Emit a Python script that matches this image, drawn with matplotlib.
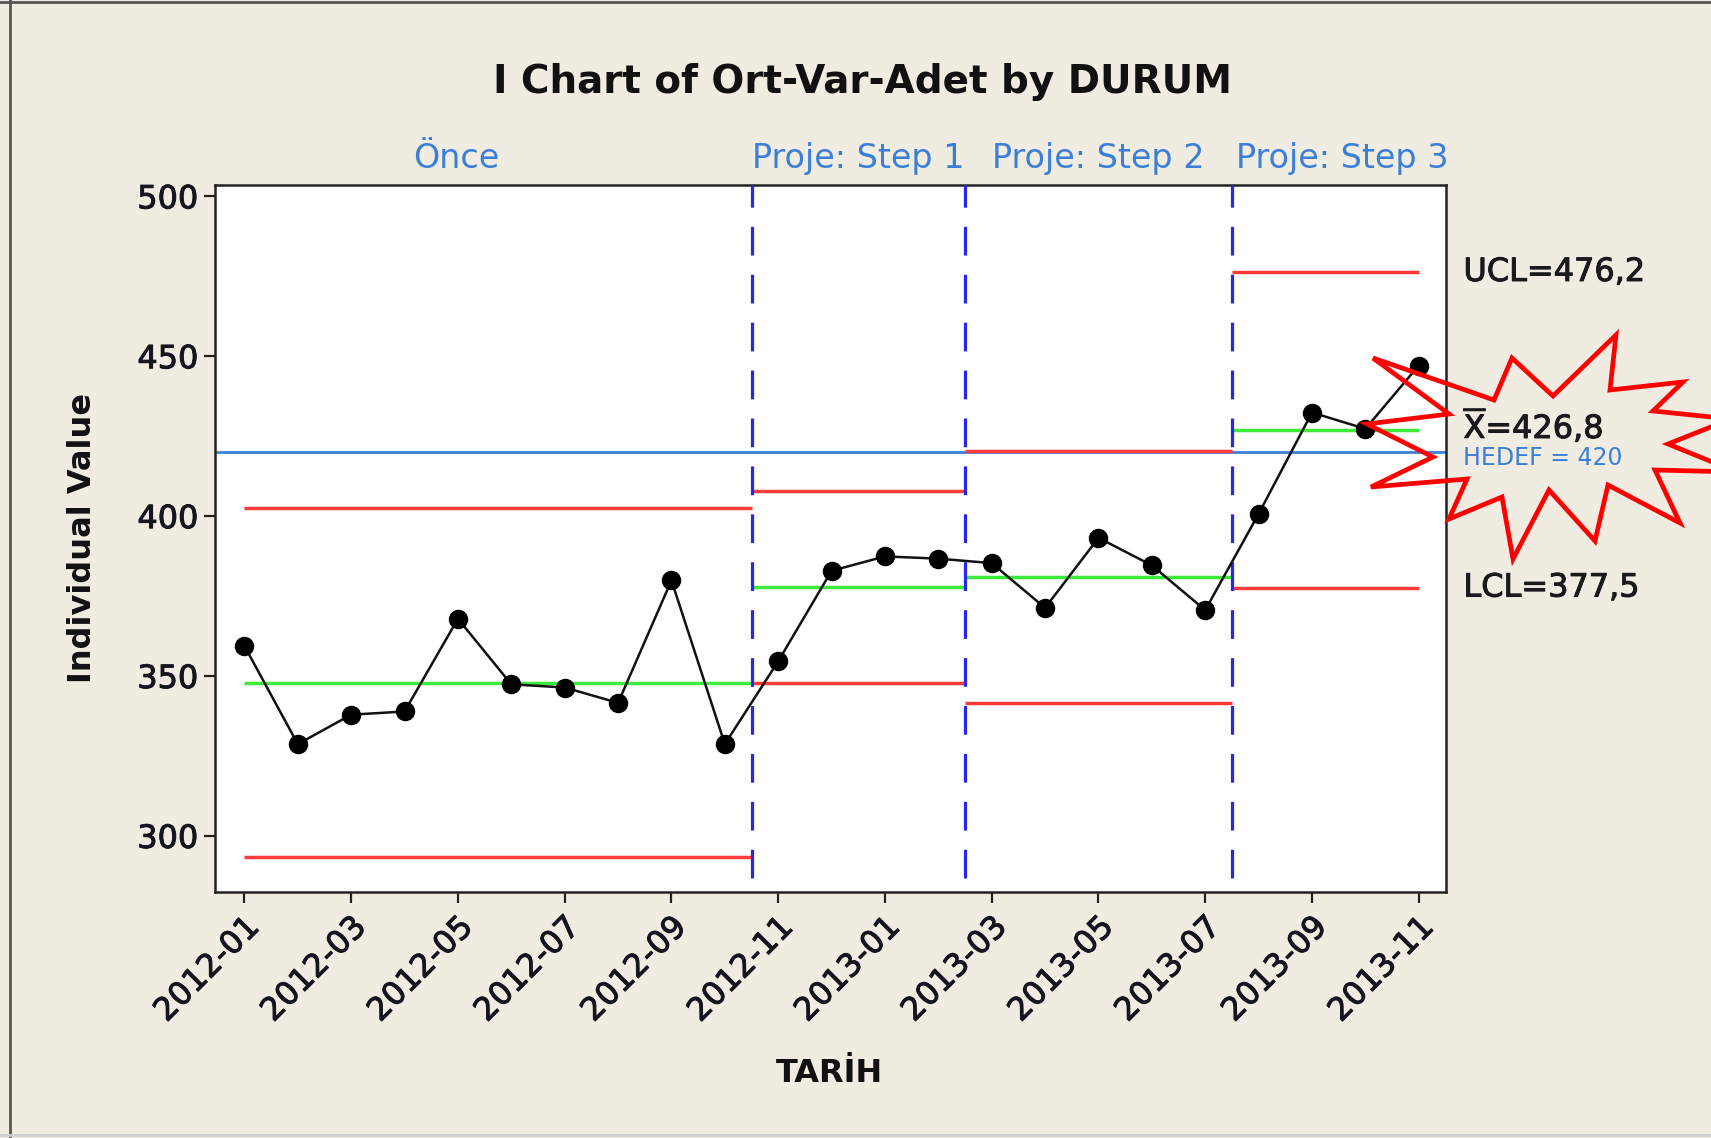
import matplotlib
matplotlib.use("Agg")
import matplotlib.pyplot as plt
from matplotlib.patches import Polygon
from matplotlib.lines import Line2D
import matplotlib.transforms as mtransforms
import matplotlib.patheffects as pe

plt.rcParams['font.family'] = ['DejaVu Sans']
plt.rcParams['mathtext.fontset'] = 'dejavusans'

# monthly individual values (TARIH = 2012-01 .. 2013-11)
months = ['2012-01', '2012-02', '2012-03', '2012-04', '2012-05', '2012-06',
          '2012-07', '2012-08', '2012-09', '2012-10', '2012-11', '2012-12',
          '2013-01', '2013-02', '2013-03', '2013-04', '2013-05', '2013-06',
          '2013-07', '2013-08', '2013-09', '2013-10', '2013-11']
values = [359.4, 328.7, 337.9, 338.9, 367.9, 347.4, 346.4, 341.6, 379.9, 328.7,
          354.6, 382.9, 387.4, 386.7,
          385.3, 371.3, 393.2, 384.6, 370.6,
          400.7, 432.4, 427.3, 447.1]

# stages (DURUM): first / last point index, and limits
stage_names = ['Önce', 'Proje: Step 1', 'Proje: Step 2', 'Proje: Step 3']
stage_first = [0, 10, 14, 19]
stage_last = [9, 13, 18, 22]
ucl = [402.4, 407.8, 420.5, 476.2]
cl = [347.7, 377.8, 380.9, 426.8]
lcl = [293.5, 347.8, 341.6, 377.5]
target = 420

bg = '#F1ECE1'
heavy = [pe.withStroke(linewidth=0.7, foreground='#15151f')]

fig = plt.figure(figsize=(17.11, 11.38), dpi=100, facecolor=bg)
ax = fig.add_axes([0.1257, 0.2166, 0.7194, 0.6204])
ax.set_facecolor('white')

x = list(range(len(values)))
ax.set_xlim(-0.55, 22.51)
ax.set_ylim(282.6, 503.4)

# target line
ax.axhline(target, color='#3C80D8', lw=2.0, zorder=2)

for i in range(len(stage_names)):
    # first stage line starts at its first point, later ones at the boundary
    x0 = stage_first[i] if i == 0 else stage_first[i] - 0.5
    x1 = stage_last[i] + 0.5 if i < len(stage_names) - 1 else stage_last[i]
    ax.hlines([ucl[i], lcl[i]], x0, x1, color='#FF3B3B', lw=2.5, zorder=3)
    ax.hlines(cl[i], x0, x1, color='#3CEB3C', lw=2.5, zorder=3)
    if i > 0:
        ax.vlines(stage_first[i] - 0.5, 286.7, 503.4, color='#2626F0', lw=2.3,
                  linestyles=(0, (9, 6)), zorder=4)

ax.plot(x, values, color='#111111', lw=1.8, marker='o', markersize=13,
        markerfacecolor='black', markeredgecolor='black', zorder=5)

# ticks
ax.set_yticks([300, 350, 400, 450, 500])
ax.set_xticks(x[::2])
ax.set_xticklabels(months[::2], rotation=45, ha='right', rotation_mode='anchor')
ax.tick_params(axis='both', direction='out', length=8, width=1.6, color='#222222',
               labelsize=23, labelcolor='#15151f')
ax.tick_params(axis='x', pad=6)
ax.tick_params(axis='y', pad=4)
for lab in ax.get_xticklabels() + ax.get_yticklabels():
    lab.set_path_effects(heavy)
for side in ['left', 'bottom', 'top', 'right']:
    ax.spines[side].set_linewidth(1.8)
    ax.spines[side].set_color('#222222')

# stage labels above plot
blend = mtransforms.blended_transform_factory(ax.transData, fig.transFigure)
label_x = [3.97, 11.5, 16.0, 20.57]
for name, lx in zip(stage_names, label_x):
    ax.text(lx, 0.861, name, transform=blend, ha='center', va='center',
            fontsize=24, color='#3A7FD8')

# limit labels on the right
rblend = mtransforms.blended_transform_factory(ax.transAxes, ax.transData)
ax.text(1.0142, 476.2, 'UCL=476,2', transform=rblend, va='center',
        fontsize=23, color='#1a1a1a', clip_on=False, path_effects=heavy)
ax.text(1.0142, 428.3, r'$\overline{\mathrm{X}}$=426,8', transform=rblend,
        va='center', fontsize=23, color='#1a1a1a', clip_on=False, path_effects=heavy)
ax.text(1.0142, 418.1, 'HEDEF = 420', transform=rblend, va='center',
        fontsize=17, color='#3A7FD8', clip_on=False)
ax.text(1.0142, 377.5, 'LCL=377,5', transform=rblend, va='center',
        fontsize=23, color='#1a1a1a', clip_on=False, path_effects=heavy)

# titles
fig.text(0.504, 0.928, 'I Chart of Ort-Var-Adet by DURUM', ha='center',
         va='center', fontsize=28, fontweight='bold', color='#111111')
fig.text(0.0485, 1 - 538 / 1138, 'Individual Value', rotation=90, ha='center',
         va='center', fontsize=23, fontweight='bold', color='#111111')
fig.text(0.4847, 0.057, 'TARİH', ha='center', va='center', fontsize=23,
         fontweight='bold', color='#111111')

# red explosion shape around the mean label (figure pixels)
star_px = [(1373, 358), (1494, 400), (1512, 358), (1553, 396), (1616, 335),
           (1610, 390), (1683, 382), (1653, 411), (1731, 419), (1668, 444),
           (1737, 472), (1655, 470), (1680, 523), (1608, 485), (1595, 541),
           (1549, 490), (1513, 559), (1502, 497), (1449, 519), (1467, 479),
           (1371, 487), (1433, 457), (1367, 424), (1449, 414)]
W, H = 1711, 1138
star = Polygon([(px / W, 1 - py / H) for px, py in star_px], closed=True,
               transform=fig.transFigure, fill=False, edgecolor='#FF0000',
               lw=3.4, joinstyle='miter', zorder=10)
fig.add_artist(star)

# window frame
fig.add_artist(Line2D([10 / W, 10 / W], [0, 1], transform=fig.transFigure,
                      color='#555555', lw=2))
fig.add_artist(Line2D([0, 1], [1 - 1.5 / H, 1 - 1.5 / H], transform=fig.transFigure,
                      color='#555555', lw=2))
fig.add_artist(Line2D([0, 1], [3 / H, 3 / H], transform=fig.transFigure,
                      color='#cfcfcf', lw=2))

fig.savefig('out.png', dpi=100, facecolor=bg)
